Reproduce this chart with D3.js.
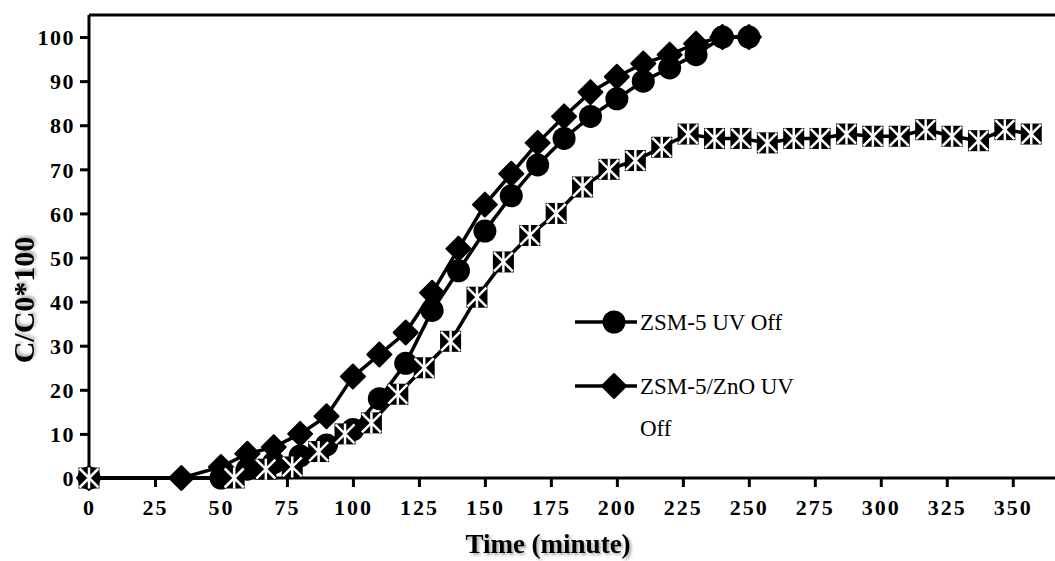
<!DOCTYPE html>
<html>
<head>
<meta charset="utf-8">
<script src="https://cdn.jsdelivr.net/npm/d3@7"></script>
<style>
  body { margin: 0; background: #fff; }
  svg { display: block; }
  text { font-family: "Liberation Serif", "Times New Roman", serif; fill: #000; }
</style>
</head>
<body>
<div id="chart"></div>
<script>
// ZSM-5 UV Off (circles)
const circleTimes = [0, 50, 60, 70, 80, 90, 100, 110, 120, 130, 140, 150, 160, 170, 180, 190, 200, 210, 220, 230, 240, 250];
const circleValues = [0, 0, 2, 3.5, 5, 7.5, 11, 18, 26, 38, 47, 56, 64, 71, 77, 82, 86, 90, 93, 96, 100, 100];

// ZSM-5/ZnO UV Off (diamonds)
const diamondTimes = [0, 35, 50, 60, 70, 80, 90, 100, 110, 120, 130, 140, 150, 160, 170, 180, 190, 200, 210, 220, 230, 240, 250];
const diamondValues = [0, 0, 2.5, 5.5, 7, 10, 14, 23, 28, 33, 42, 52, 62, 69, 76, 82, 87.5, 91, 94, 96, 98.5, 100, 100];

// third series (square star markers, no legend entry)
const starTimes = [0, 55, 67, 77, 87, 97, 107, 117, 127, 137, 147, 157, 167, 177, 187, 197, 207, 217, 227, 237, 247, 257, 267, 277, 287, 297, 307, 317, 327, 337, 347, 357];
const starValues = [0, 0, 2, 2.5, 6, 10, 12.5, 19, 25, 31, 41, 49, 55, 60, 66, 70, 72, 75, 78, 77, 77, 76, 77, 77, 78, 77.5, 77.5, 79, 77.5, 76.5, 79, 78];

const xTicks = d3.range(0, 351, 25);
const yTicks = d3.range(0, 101, 10);

const legendLabels = [["ZSM-5 UV Off"], ["ZSM-5/ZnO UV", "Off"]];

const width = 1055;
const height = 561;

const svg = d3.select("#chart")
  .append("svg")
  .attr("width", width)
  .attr("height", height);

// soft shadow like the original axis titles
const defs = svg.append("defs");
defs.append("filter")
  .attr("id", "shadow")
  .attr("x", "-20%").attr("y", "-20%")
  .attr("width", "140%").attr("height", "140%")
  .append("feDropShadow")
  .attr("dx", 2).attr("dy", 2)
  .attr("stdDeviation", 1.5)
  .attr("flood-color", "#000")
  .attr("flood-opacity", 0.35);

const x = d3.scaleLinear().domain([0, 366]).range([89, 1055]);
const y = d3.scaleLinear().domain([0, 105]).range([478, 15]);

// y axis
const yAxis = svg.append("g")
  .attr("transform", `translate(${x(0)},0)`)
  .call(d3.axisLeft(y).tickValues(yTicks).tickSize(9).tickSizeOuter(0).tickPadding(5));
yAxis.select(".domain").remove();
yAxis.selectAll(".tick line").attr("stroke", "#000").attr("stroke-width", 3);
yAxis.selectAll(".tick text")
  .style("font-family", '"Liberation Serif", "Times New Roman", serif')
  .style("font-size", "22px")
  .style("font-weight", "bold")
  .style("letter-spacing", "1.5px")
  .attr("dy", "0.35em");

// x axis
const xAxis = svg.append("g")
  .attr("transform", `translate(0,${y(0)})`)
  .call(d3.axisBottom(x).tickValues(xTicks).tickSize(9).tickSizeOuter(0).tickPadding(12));
xAxis.select(".domain").remove();
xAxis.selectAll(".tick line").attr("stroke", "#000").attr("stroke-width", 3);
xAxis.selectAll(".tick text")
  .style("font-family", '"Liberation Serif", "Times New Roman", serif')
  .style("font-size", "22px")
  .style("font-weight", "bold")
  .style("letter-spacing", "2px");

// frame lines (left, bottom, top)
const frame = svg.append("g").attr("stroke", "#000").attr("stroke-width", 3);
frame.append("line").attr("x1", x(0)).attr("x2", x(0)).attr("y1", y(105)).attr("y2", y(0));
frame.append("line").attr("x1", x(0)).attr("x2", x(366)).attr("y1", y(0)).attr("y2", y(0));
frame.append("line").attr("x1", x(0)).attr("x2", x(366)).attr("y1", y(105)).attr("y2", y(105));

// axis titles
svg.append("text")
  .attr("x", 548)
  .attr("y", 553)
  .attr("text-anchor", "middle")
  .attr("filter", "url(#shadow)")
  .style("font-size", "27px")
  .style("font-weight", "bold")
  .text("Time (minute)");

svg.append("text")
  .attr("transform", "translate(34,300) rotate(-90)")
  .attr("text-anchor", "middle")
  .attr("filter", "url(#shadow)")
  .style("font-size", "30px")
  .style("font-weight", "bold")
  .text("C/C0*100");

// marker shapes
const circlePath = d3.symbol().type(d3.symbolCircle).size(Math.PI * 11.5 * 11.5)();
const diamondPath = d3.symbol().type(d3.symbolSquare).size(17 * 17)();

const drawStar = (g) => {
  const s = 10.5;
  g.append("rect")
    .attr("x", -s).attr("y", -s)
    .attr("width", 2 * s).attr("height", 2 * s)
    .attr("fill", "#000");
  g.append("path")
    .attr("d", `M${-s + 1},${-s + 1}L${s - 1},${s - 1}M${s - 1},${-s + 1}L${-s + 1},${s - 1}M0,${-s}L0,${s}`)
    .attr("stroke", "#fff")
    .attr("stroke-width", 2.5)
    .attr("fill", "none");
};

const line = d3.line().x((d) => x(d[0])).y((d) => y(d[1]));

const drawSeries = (times, values, marker) => {
  const pts = times.map((t, i) => [t, values[i]]);
  const g = svg.append("g");
  g.append("path")
    .datum(pts)
    .attr("d", line)
    .attr("fill", "none")
    .attr("stroke", "#000")
    .attr("stroke-width", 3.5);
  const m = g.selectAll("g.mark")
    .data(pts)
    .enter()
    .append("g")
    .attr("class", "mark")
    .attr("transform", (d) => `translate(${x(d[0])},${y(d[1])})`);
  if (marker === "circle") {
    m.append("path").attr("d", circlePath).attr("fill", "#000");
  } else if (marker === "diamond") {
    m.append("path").attr("d", diamondPath).attr("transform", "rotate(45)")
      .attr("fill", "#000").attr("stroke", "#000").attr("stroke-width", 2).attr("stroke-linejoin", "round");
  } else {
    m.each(function () { drawStar(d3.select(this)); });
  }
};

drawSeries(diamondTimes, diamondValues, "diamond");
drawSeries(circleTimes, circleValues, "circle");
drawSeries(starTimes, starValues, "star");

// legend
const legendY = [322, 386];
const legendMarkers = [circlePath, diamondPath];
legendLabels.forEach((lines, i) => {
  const g = svg.append("g").attr("transform", `translate(575,${legendY[i]})`);
  g.append("line").attr("x1", 0).attr("x2", 62).attr("y1", 0).attr("y2", 0)
    .attr("stroke", "#000").attr("stroke-width", 3.5);
  const mk = g.append("path").attr("d", legendMarkers[i]).attr("fill", "#000")
    .attr("transform", i === 0 ? "translate(39,0)" : "translate(39,0) rotate(45)");
  if (i === 1) mk.attr("stroke", "#000").attr("stroke-width", 2).attr("stroke-linejoin", "round");
  const t = g.append("text")
    .attr("x", 65)
    .attr("y", 8)
    .style("font-size", "23px");
  lines.forEach((s, j) => {
    t.append("tspan").attr("x", 65).attr("dy", j === 0 ? 0 : 42).text(s);
  });
});
</script>
</body>
</html>
